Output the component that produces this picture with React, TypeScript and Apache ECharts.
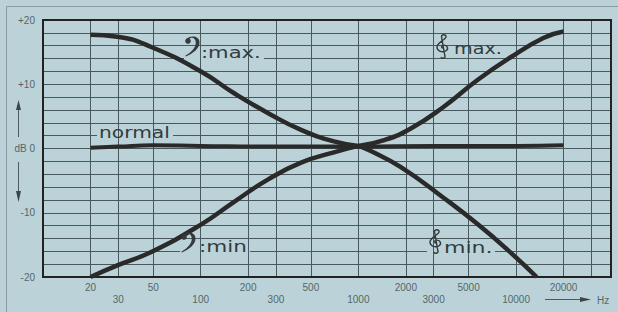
import React, { useEffect, useRef } from "react";
import * as echarts from "echarts";

// ---- data ----
const normalHz = [20, 30, 50, 100, 300, 1000, 3000, 10000, 20000];
const normalDb = [0.1, 0.3, 0.5, 0.4, 0.3, 0.3, 0.4, 0.4, 0.5];

const bassMaxHz = [20, 29.6, 48.6, 101, 163, 268, 433, 700, 1000];
const bassMaxDb = [17.7, 17.4, 15.8, 11.95, 8.6, 5.5, 2.9, 1.1, 0.4];

const bassMinHz = [20, 29.6, 48.6, 101, 163, 268, 433, 700, 1000];
const bassMinDb = [-20, -18.2, -16.1, -11.8, -8.3, -4.8, -2.2, -0.6, 0.4];

const trebleMaxHz = [1000, 1460, 2150, 3480, 5720, 9240, 14900, 20000];
const trebleMaxDb = [0.4, 1.3, 3.1, 6.5, 10.7, 14.2, 17.2, 18.2];

const trebleMinHz = [1000, 1200, 1860, 3480, 5720, 9240, 13500];
const trebleMinDb = [0.4, -0.4, -2.9, -7.7, -11.8, -16.2, -20];

const labelRowTopHz = [20, 50, 200, 500, 2000, 5000, 20000];
const labelRowBottomHz = [30, 100, 300, 1000, 3000, 10000];
const unlabeledGridHz = [30000];

const yTickLabels: Record<string, string> = {
  "20": "+20",
  "10": "+10",
  "0": "dB 0",
  "-10": "-10",
  "-20": "-20",
};

// ---- styles ----
const BG = "#bbd3d8";
const GRID = "#48585c";
const INK = "#2b2a2a";
const TXT = "#343b3d";
const TICK = "#55666a";
const FONT = "'DejaVu Sans', 'Liberation Sans', sans-serif";
const TICKFONT = "'Liberation Sans', 'DejaVu Sans', sans-serif";

const BASS_D =
  "M 1.5 4.5 C 3 0.5 14.5 -0.5 14.5 7.5 C 14.5 13.5 8 18.5 0.8 21.5 L 0.3 20.8 C 6.5 17 10.8 13 10.8 7.5 C 10.8 2.5 5.5 1.5 4 4.5 Z";
const TREBLE_D =
  "M 6.3 25 C 7.7 27 11.9 26 10.5 23 L 7 3 C 7 0 11.9 0 11.9 3 C 11.9 6 2.1 9 2.1 14 C 2.1 18 7 20 11.2 18.5 C 15.4 16.5 13.3 11.5 9.1 12 C 6.3 12.5 6.3 15 9.1 15.5";

let registered = false;
function registerClefs() {
  if (registered) return;
  registered = true;
  echarts.graphic.registerShape("bassClef", echarts.graphic.extendPath(BASS_D, {}) as any);
  echarts.graphic.registerShape("trebleClef", echarts.graphic.extendPath(TREBLE_D, {}) as any);
}

const pairs = (hz: number[], db: number[]) => hz.map((h, i) => [h, db[i]]);

function curve(name: string, hz: number[], db: number[], width: number) {
  return {
    type: "line",
    name,
    data: pairs(hz, db),
    smooth: 0.5,
    symbol: "none",
    silent: true,
    z: 10,
    lineStyle: { color: INK, width, cap: "butt" },
  };
}

function gridLines(values: number[], showLabel: boolean, distance: number) {
  return {
    type: "line",
    data: [],
    symbol: "none",
    silent: true,
    lineStyle: { opacity: 0 },
    markLine: {
      silent: true,
      symbol: ["none", "none"],
      animation: false,
      lineStyle: { color: GRID, width: 1, type: "solid", opacity: 1 },
      emphasis: { disabled: true },
      label: {
        show: showLabel,
        position: "start",
        distance,
        formatter: (p: any) => String(p.value),
        color: TICK,
        fontSize: 10,
        fontFamily: TICKFONT,
      },
      data: values.map((v) => ({ xAxis: v })),
    },
  };
}

function clefBass(x: number, y: number) {
  return {
    type: "group",
    x,
    y,
    z: 30,
    children: [
      { type: "bassClef", z: 30, style: { fill: TXT } },
      { type: "circle", z: 30, shape: { cx: 3, cy: 6, r: 2.8 }, style: { fill: TXT } },
    ],
  };
}

function clefTreble(x: number, y: number) {
  return {
    type: "group",
    x,
    y,
    scaleX: 0.93,
    scaleY: 0.93,
    z: 30,
    children: [
      { type: "trebleClef", z: 30, style: { fill: "none", stroke: TXT, lineWidth: 1.5 } },
    ],
  };
}

function label(text: string, x: number, y: number, size: number, sx: number) {
  return {
    type: "text",
    x,
    y,
    scaleX: sx,
    z: 30,
    style: {
      text,
      fill: TXT,
      fontSize: size,
      fontFamily: FONT,
      textAlign: "left",
      textVerticalAlign: "middle",
    },
  };
}

function mask(x: number, y: number, w: number) {
  return { type: "rect", z: 3, shape: { x, y, width: w, height: 3 }, style: { fill: BG } };
}

export default function App() {
  const ref = useRef<HTMLDivElement>(null);
  useEffect(() => {
    if (!ref.current) return;
    registerClefs();
    const chart = echarts.init(ref.current, undefined, { renderer: "svg" });
    chart.setOption({
      animation: false,
      backgroundColor: BG,
      grid: { left: 43, top: 20, width: 568, height: 257, show: false, outerBoundsMode: "none" },
      xAxis: {
        type: "log",
        logBase: 10,
        min: 10,
        max: 40000,
        axisLine: { show: false },
        axisTick: { show: false },
        axisLabel: { show: false },
        splitLine: { show: false },
        minorSplitLine: { show: false },
      },
      yAxis: {
        type: "value",
        min: -20,
        max: 20,
        interval: 2,
        axisLine: { show: false },
        axisTick: { show: false },
        splitLine: { show: true, lineStyle: { color: GRID, width: 1 } },
        axisLabel: {
          interval: 0,
          margin: 8,
          color: TICK,
          fontSize: 10,
          fontFamily: TICKFONT,
          formatter: (v: number) => yTickLabels[String(v)] ?? "",
        },
      },
      series: [
        gridLines(labelRowTopHz, true, 5),
        gridLines(labelRowBottomHz, true, 17),
        gridLines(unlabeledGridHz, false, 5),
        curve("normal", normalHz, normalDb, 4),
        curve("bassMax", bassMaxHz, bassMaxDb, 4.5),
        curve("bassMin", bassMinHz, bassMinDb, 4.5),
        curve("trebleMax", trebleMaxHz, trebleMaxDb, 4.5),
        curve("trebleMin", trebleMinHz, trebleMinDb, 4.5),
      ],
      graphic: [
        // outer thin frame
        { type: "line", z: 1, shape: { x1: 6.5, y1: 6.5, x2: 6.5, y2: 312 }, style: { stroke: "#8a9ca0", lineWidth: 1 } },
        { type: "line", z: 1, shape: { x1: 6.5, y1: 6.5, x2: 618, y2: 6.5 }, style: { stroke: "#8a9ca0", lineWidth: 1 } },
        // plot frame
        { type: "rect", z: 6, shape: { x: 43, y: 20, width: 568, height: 257 }, style: { fill: "none", stroke: "#222", lineWidth: 2 } },
        // dB arrows
        { type: "line", z: 6, shape: { x1: 18.5, y1: 137, x2: 18.5, y2: 106 }, style: { stroke: "#4a5a5e", lineWidth: 1 } },
        { type: "polygon", z: 6, shape: { points: [[16, 110], [18.5, 100], [21, 110]] }, style: { fill: "#3a4649" } },
        { type: "line", z: 6, shape: { x1: 18.5, y1: 162, x2: 18.5, y2: 194 }, style: { stroke: "#4a5a5e", lineWidth: 1 } },
        { type: "polygon", z: 6, shape: { points: [[16, 191], [18.5, 202], [21, 191]] }, style: { fill: "#3a4649" } },
        // Hz arrow
        { type: "line", z: 6, shape: { x1: 545, y1: 299.5, x2: 584, y2: 299.5 }, style: { stroke: "#4a5a5e", lineWidth: 1 } },
        { type: "polygon", z: 6, shape: { points: [[580, 297], [591, 299.5], [580, 302]] }, style: { fill: "#3a4649" } },
        {
          type: "text",
          z: 6,
          x: 597,
          y: 300,
          style: { text: "Hz", fill: TICK, fontSize: 10, fontFamily: TICKFONT, textAlign: "left", textVerticalAlign: "middle" },
        },
        // masks under labels (hide horizontal grid line)
        mask(97, 134, 76),
        mask(184, 57, 80),
        mask(180, 250, 70),
        mask(427, 250, 68),
        // labels
        label("normal", 99, 133, 15, 1.35),
        clefBass(185, 35),
        label(":max.", 201, 52, 16, 1.32),
        clefTreble(435, 34),
        label("max.", 454, 49, 16, 1.2),
        clefBass(181, 231),
        label(":min", 199, 246.5, 16, 1.35),
        clefTreble(428, 229),
        label("min.", 444, 247.5, 16, 1.38),
      ],
    } as any);
    return () => chart.dispose();
  }, []);
  return (
    <div
      ref={ref}
      style={{ position: "fixed", left: 0, top: 0, width: 618, height: 312, background: BG }}
    />
  );
}
